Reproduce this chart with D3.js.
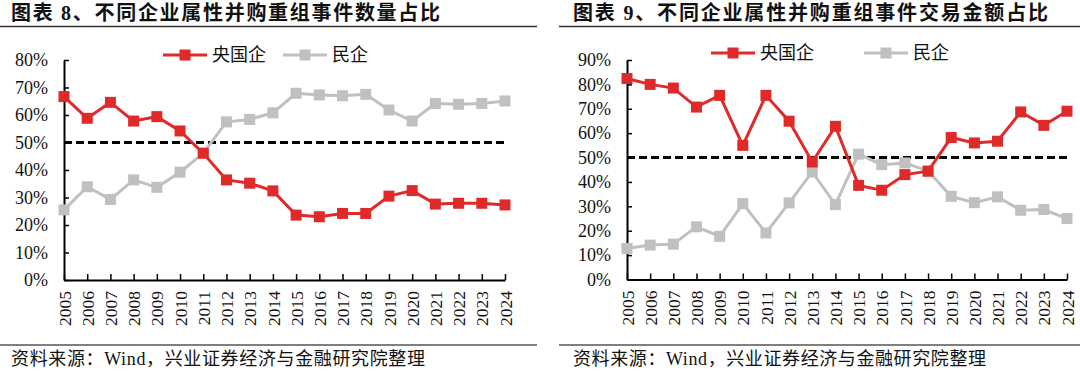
<!DOCTYPE html>
<html>
<head>
<meta charset="utf-8">
<script src="https://cdn.jsdelivr.net/npm/d3@7"></script>
<style>
  body { margin: 0; background: #fff; }
  svg { display: block; }
</style>
</head>
<body>
<div id="chart"></div>
<script>
// data
var years = ["2005","2006","2007","2008","2009","2010","2011","2012","2013","2014",
             "2015","2016","2017","2018","2019","2020","2021","2022","2023","2024"];

// chart 8: share of deal count
var countSOE = [66.7,58.8,64.6,57.8,59.4,54.2,46.1,36.4,35.2,32.4,
                23.6,23.0,24.2,24.2,30.5,32.5,27.6,27.9,27.9,27.3];
var countPrivate = [25.5,33.9,29.3,36.4,33.7,39.2,46.1,57.5,58.4,60.8,
                    67.9,67.3,67.0,67.5,61.8,57.8,64.2,63.9,64.2,65.1];

// chart 9: share of deal value
var valueSOE = [82.4,80.0,78.5,70.7,75.5,55.0,75.5,64.9,48.2,62.8,
                38.6,36.6,43.0,44.4,58.2,56.0,56.7,68.7,63.2,69.0];
var valuePrivate = [12.7,14.1,14.5,21.6,17.7,31.1,19.1,31.4,44.1,30.7,
                    51.4,47.1,47.8,44.5,34.1,31.5,33.9,28.4,28.7,25.0];

var countTicks = [0,10,20,30,40,50,60,70,80];
var valueTicks = [0,10,20,30,40,50,60,70,80,90];
var seriesNames = ["央国企", "民企"];
var refLine = 50;

var RED = "#e02a2a", GRAY = "#c0c0c0";
var FONT = "'Liberation Serif', 'Noto Sans CJK SC', serif";

var svg = d3.select("#chart").append("svg")
    .attr("width", 1080)
    .attr("height", 374);

function drawPanel(opt) {
  var g = svg.append("g");

  // title + rules
  g.append("text")
      .attr("x", opt.titleX)
      .attr("y", 20)
      .attr("font-family", FONT)
      .attr("font-weight", "bold")
      .attr("font-size", "20px")
      .attr("fill", "#111")
      .attr("textLength", opt.titleW)
      .attr("lengthAdjust", "spacing")
      .text(opt.title);
  g.append("line")
      .attr("x1", opt.ruleX1).attr("x2", opt.ruleX2)
      .attr("y1", 26.5).attr("y2", 26.5)
      .attr("stroke", "#333").attr("stroke-width", 1.5);
  g.append("line")
      .attr("x1", opt.ruleX1).attr("x2", opt.ruleX2)
      .attr("y1", 345).attr("y2", 345)
      .attr("stroke", "#555").attr("stroke-width", 1.5);
  g.append("text")
      .attr("x", opt.titleX)
      .attr("y", 365)
      .attr("font-family", FONT)
      .attr("font-size", "18px")
      .attr("fill", "#111")
      .attr("textLength", opt.srcW)
      .attr("lengthAdjust", "spacing")
      .text("资料来源：Wind，兴业证券经济与金融研究院整理");

  var x = d3.scalePoint()
      .domain(years)
      .range([opt.x0, opt.x1]);
  var y = d3.scaleLinear()
      .domain([0, d3.max(opt.ticks)])
      .range([opt.y0, opt.yTop]);

  // y axis
  var ya = g.append("g")
      .attr("transform", "translate(" + opt.x0 + ",0)")
      .call(d3.axisRight(y)
          .tickValues(opt.ticks)
          .tickSize(5)
          .tickSizeOuter(0)
          .tickFormat(function(d) { return d + "%"; }));
  ya.select(".domain").attr("stroke", "#000").attr("stroke-width", 2);
  ya.selectAll(".tick line").attr("stroke", "#000").attr("stroke-width", 1.5);
  ya.selectAll(".tick text")
      .attr("x", -16)
      .attr("text-anchor", "end")
      .attr("font-family", FONT)
      .attr("font-size", "18px")
      .attr("fill", "#111");

  // x axis
  var xa = g.append("g")
      .attr("transform", "translate(0," + opt.y0 + ")")
      .call(d3.axisTop(x).tickSize(6).tickSizeOuter(0));
  xa.select(".domain").attr("stroke", "#000").attr("stroke-width", 2);
  xa.selectAll(".tick line").attr("stroke", "#000").attr("stroke-width", 1.5);
  xa.selectAll(".tick text")
      .attr("transform", "rotate(-90)")
      .attr("x", -11)
      .attr("y", 0)
      .attr("dy", "0.35em")
      .attr("text-anchor", "end")
      .attr("font-family", FONT)
      .attr("font-size", "17.5px")
      .attr("fill", "#111");

  // 50% reference line
  g.append("line")
      .attr("x1", opt.x0).attr("x2", opt.x1)
      .attr("y1", y(refLine)).attr("y2", y(refLine))
      .attr("stroke", "#000")
      .attr("stroke-width", 3)
      .style("stroke-dasharray", "8, 4");

  var series = [
    { name: seriesNames[1], values: opt.priv, color: GRAY },
    { name: seriesNames[0], values: opt.soe, color: RED }
  ];

  var line = d3.line()
      .x(function(d, i) { return x(years[i]); })
      .y(function(d) { return y(d); });

  series.forEach(function(s) {
    g.append("path")
        .datum(s.values)
        .attr("d", line)
        .attr("fill", "none")
        .attr("stroke", s.color)
        .attr("stroke-width", 3);
    g.selectAll(null)
        .data(s.values)
        .enter()
        .append("rect")
          .attr("x", function(d, i) { return x(years[i]) - 5.5; })
          .attr("y", function(d) { return y(d) - 5.5; })
          .attr("width", 11)
          .attr("height", 11)
          .attr("fill", s.color);
  });

  // legend
  var legendItems = [
    { name: seriesNames[0], color: RED, x: opt.legX[0] },
    { name: seriesNames[1], color: GRAY, x: opt.legX[1] }
  ];
  legendItems.forEach(function(l) {
    g.append("line")
        .attr("x1", l.x).attr("x2", l.x + 44)
        .attr("y1", opt.legY).attr("y2", opt.legY)
        .attr("stroke", l.color).attr("stroke-width", 3);
    g.append("rect")
        .attr("x", l.x + 22 - 5.5).attr("y", opt.legY - 5.5)
        .attr("width", 11).attr("height", 11)
        .attr("fill", l.color);
    g.append("text")
        .attr("x", l.x + 49)
        .attr("y", opt.legY)
        .attr("dy", "0.35em")
        .attr("font-family", FONT)
        .attr("font-size", "18px")
        .attr("fill", "#111")
        .text(l.name);
  });
}

drawPanel({
  title: "图表 8、不同企业属性并购重组事件数量占比",
  titleX: 11, titleW: 429, srcW: 414, ruleX1: 0, ruleX2: 537,
  x0: 64, x1: 505, y0: 280, yTop: 60,
  ticks: countTicks,
  soe: countSOE, priv: countPrivate,
  legX: [163, 283], legY: 55
});

drawPanel({
  title: "图表 9、不同企业属性并购重组事件交易金额占比",
  titleX: 573, titleW: 475, srcW: 413, ruleX1: 559, ruleX2: 1080,
  x0: 627, x1: 1067, y0: 279.5, yTop: 60,
  ticks: valueTicks,
  soe: valueSOE, priv: valuePrivate,
  legX: [711, 864], legY: 53
});
</script>
</body>
</html>
